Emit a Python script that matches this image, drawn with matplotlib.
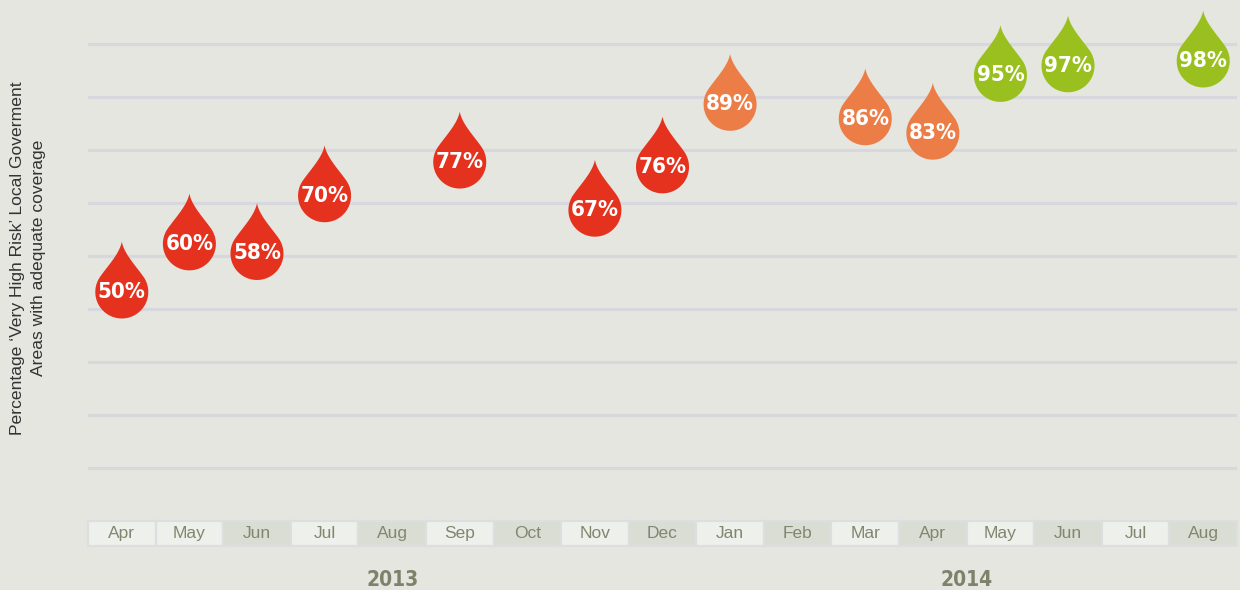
import numpy as np
import matplotlib.pyplot as plt
from matplotlib.path import Path
from matplotlib.patches import Rectangle
from matplotlib.transforms import blended_transform_factory
from matplotlib import font_manager

# data
months = ["Apr", "May", "Jun", "Jul", "Aug", "Sep", "Oct", "Nov", "Dec",
          "Jan", "Feb", "Mar", "Apr", "May", "Jun", "Jul", "Aug"]
coverage = [50, 60, 58, 70, None, 77, None, 67, 76,
            89, None, 86, 83, 95, 97, None, 98]
month_dark = [0, 0, 1, 0, 1, 0, 1, 0, 1, 0, 1, 0, 1, 0, 1, 0, 1]
years = ["2013", "2014"]
year_pos = [4, 12.5]

BG = "#e4e6df"
RED, ORANGE, GREEN = "#e5321e", "#ed7d46", "#99c01e"


def drop_color(v):
    if v >= 90:
        return GREEN
    if v >= 80:
        return ORANGE
    return RED


def bezier(p0, p1, p2, p3, n=30):
    t = np.linspace(0, 1, n)[:, None]
    return ((1 - t) ** 3 * p0 + 3 * (1 - t) ** 2 * t * p1
            + 3 * (1 - t) * t ** 2 * p2 + t ** 3 * p3)


def drop_marker():
    a = np.radians(35)
    h = 1.9
    ang = np.linspace(a, -np.pi - a, 80)
    arc = np.column_stack([np.cos(ang), np.sin(ang)])
    p0 = np.array([-np.cos(a), np.sin(a)])
    left = bezier(p0, p0 + 0.5 * np.array([np.sin(a), np.cos(a)]),
                  np.array([-0.08, h - 0.45]), np.array([0.0, h]))
    right = left[::-1] * np.array([-1, 1])
    verts = np.vstack([arc, left[1:], right[1:]])
    codes = [Path.MOVETO] + [Path.LINETO] * (len(verts) - 1)
    return Path(verts, codes)


marker = drop_marker()

# bold condensed face for the numbers
cond = font_manager.FontProperties(family="DejaVu Sans", weight="bold", stretch="condensed")

fig = plt.figure(figsize=(12.4, 5.9), dpi=100, facecolor=BG)
# axes: x from 88px to 1237px, y from 546px (bottom) to 0px (top)
ax = fig.add_axes([88 / 1240, 44 / 590, 1149 / 1240, 546 / 590])
ax.set_facecolor("none")
ax.set_xlim(-0.5, len(months) - 0.5)
ax.set_ylim(-2.78, 110.67)
for s in ax.spines.values():
    s.set_visible(False)
ax.set_xticks([])
ax.set_yticks([])

# horizontal guide lines
for g in np.arange(13.4, 102, 11.01):
    ax.axhline(g, color="#d6d8dd", lw=2.2, zorder=1)

# month strip
tr = blended_transform_factory(ax.transData, ax.transAxes)
for i, (m, d) in enumerate(zip(months, month_dark)):
    ax.add_patch(Rectangle((i - 0.5, 0), 1, 0.0458, transform=tr,
                           facecolor="#d9ddd4" if d else "#eef0eb",
                           edgecolor="#dcdedf", lw=1.6, zorder=2, clip_on=False))
    ax.text(i, 0.022, m, transform=tr, ha="center", va="center",
            fontsize=12.5, color="#80876e", family="Liberation Sans", zorder=3)

for y, xp in zip(years, year_pos):
    ax.text(xp, -0.062, y, transform=tr, ha="center", va="center",
            fontproperties=cond, fontsize=15, color="#7d826a", clip_on=False)

# drops
xs = [i for i, v in enumerate(coverage) if v is not None]
vs = [v for v in coverage if v is not None]
ax.scatter(xs, vs, marker=marker, s=72.5 ** 2, c=[drop_color(v) for v in vs],
           edgecolors="none", zorder=4, clip_on=False)
for x, v in zip(xs, vs):
    ax.text(x, v, f"{v}%", ha="center", va="center", color="white",
            fontproperties=cond, fontsize=16, zorder=5)

fig.text(28 / 1240, 1 - 258 / 590,
         "Percentage \u2018Very High Risk\u2019 Local Goverment\nAreas with adequate coverage",
         rotation=90, ha="center", va="center", multialignment="center",
         fontsize=12.6, color="#333333", family="Liberation Sans", linespacing=1.45)

fig.savefig("out.png", dpi=100, facecolor=BG)
